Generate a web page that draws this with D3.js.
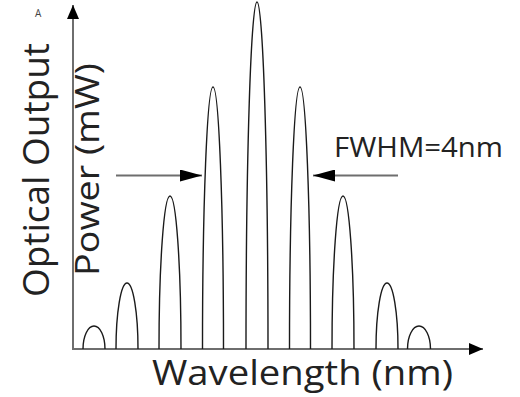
<!DOCTYPE html>
<html>
<head>
<meta charset="utf-8">
<script src="https://cdn.jsdelivr.net/npm/d3@7.9.0/dist/d3.min.js"></script>
<style>
  html, body { margin: 0; padding: 0; background: #fff; }
  svg { display: block; font-family: "Open Sans", "Noto Sans", sans-serif; }
</style>
</head>
<body>
<svg id="chart" width="520" height="397"></svg>
<script>
// peak centres (wavelength units), peak powers and half-widths
const centers = [2.1, 5.4, 9.7, 14.0, 18.4, 22.7, 27.0, 31.4, 34.6];
const powers = [2.3, 6.6, 15.3, 26.2, 34.7, 26.2, 15.3, 6.6, 2.3];
const halfWidths = [1.1, 1.1, 1.1, 1.05, 1.1, 1.05, 1.1, 1.1, 1.15];
const peaks = centers.map((c, i) => ({ c, p: powers[i], w: halfWidths[i] }));

const fwhmLabel = 'FWHM=4nm';
const xLabel = 'Wavelength (nm)';
const yLabel1 = 'Optical Output';
const yLabel2 = 'Power (mW)';

const svg = d3.select('#chart');

const x = d3.scaleLinear().domain([0, 41]).range([73, 483]);
const y = d3.scaleLinear().domain([0, 34.5]).range([349, 4]);

// arrow markers
const defs = svg.append('defs');
defs.append('marker')
  .attr('id', 'axisHead')
  .attr('viewBox', '0 0 14 12')
  .attr('refX', 14).attr('refY', 6)
  .attr('markerUnits', 'userSpaceOnUse')
  .attr('markerWidth', 14).attr('markerHeight', 12)
  .attr('orient', 'auto')
  .append('path').attr('d', 'M0,0L14,6L0,12Z').attr('fill', '#000');

defs.append('marker')
  .attr('id', 'fwhmHead')
  .attr('viewBox', '0 0 22 12')
  .attr('refX', 22).attr('refY', 6)
  .attr('markerUnits', 'userSpaceOnUse')
  .attr('markerWidth', 22).attr('markerHeight', 12)
  .attr('orient', 'auto')
  .append('path').attr('d', 'M0,0L22,6L0,12Z').attr('fill', '#000');

// axes
svg.append('line')
  .attr('x1', x(0)).attr('x2', x(0))
  .attr('y1', y(0) + 1).attr('y2', 5)
  .attr('stroke', '#6e6e6e').attr('stroke-width', 2)
  .attr('marker-end', 'url(#axisHead)');

svg.append('line')
  .attr('x1', x(0) - 1).attr('x2', x(41))
  .attr('y1', y(0)).attr('y2', y(0))
  .attr('stroke', '#6e6e6e').attr('stroke-width', 2)
  .attr('marker-end', 'url(#axisHead)');

// peaks as half ellipses
svg.append('g')
  .selectAll('path')
  .data(peaks)
  .join('path')
  .attr('d', d => {
    const x0 = x(d.c - d.w), x1 = x(d.c + d.w);
    const rx = (x1 - x0) / 2, ry = y(0) - y(d.p);
    return `M${x0},${y(0)}A${rx},${ry} 0 0 1 ${x1},${y(0)}`;
  })
  .attr('fill', 'none')
  .attr('stroke', '#1a1a1a')
  .attr('stroke-width', 1.4);

// FWHM arrows
const arrowY = 175.5;
svg.append('line')
  .attr('x1', x(4.3)).attr('x2', x(12.9))
  .attr('y1', arrowY).attr('y2', arrowY)
  .attr('stroke', '#6e6e6e').attr('stroke-width', 2)
  .attr('marker-end', 'url(#fwhmHead)');
svg.append('line')
  .attr('x1', x(32.5)).attr('x2', x(24.0))
  .attr('y1', arrowY).attr('y2', arrowY)
  .attr('stroke', '#6e6e6e').attr('stroke-width', 2)
  .attr('marker-end', 'url(#fwhmHead)');

// texts
svg.append('text')
  .attr('x', 334).attr('y', 157)
  .attr('font-size', 28)
  .attr('textLength', 169).attr('lengthAdjust', 'spacingAndGlyphs')
  .attr('fill', '#222')
  .text(fwhmLabel);

svg.append('text')
  .attr('x', 152).attr('y', 385)
  .attr('font-size', 35)
  .attr('textLength', 301).attr('lengthAdjust', 'spacingAndGlyphs')
  .attr('fill', '#222')
  .text(xLabel);

svg.append('text')
  .attr('transform', 'translate(49,297) rotate(-90)')
  .attr('font-size', 37)
  .attr('textLength', 254).attr('lengthAdjust', 'spacingAndGlyphs')
  .attr('fill', '#222')
  .text(yLabel1);

svg.append('text')
  .attr('transform', 'translate(99,276) rotate(-90)')
  .attr('font-size', 33)
  .attr('textLength', 213).attr('lengthAdjust', 'spacingAndGlyphs')
  .attr('fill', '#222')
  .text(yLabel2);

svg.append('text')
  .attr('x', 35).attr('y', 17)
  .attr('font-size', 10)
  .attr('fill', '#444')
  .text('A');
</script>
</body>
</html>
